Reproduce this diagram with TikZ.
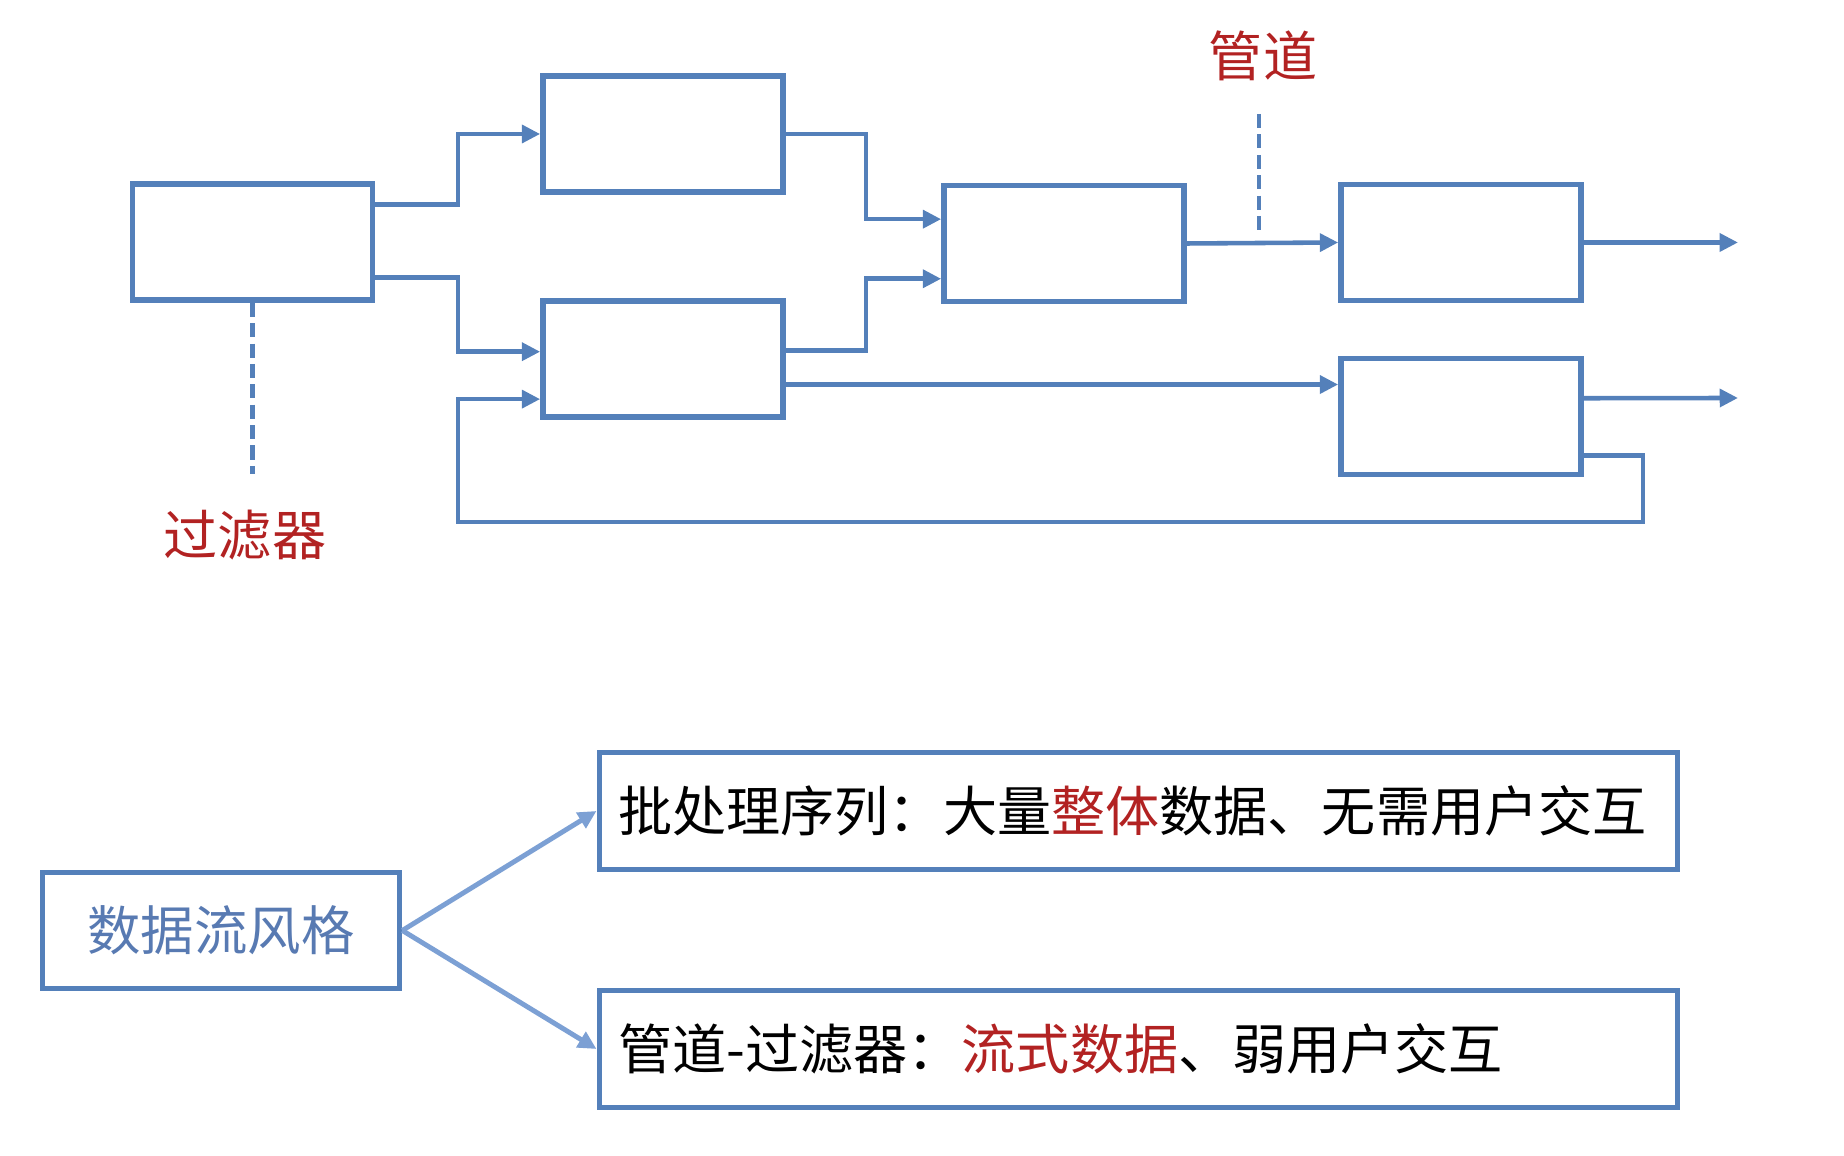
\documentclass[tikz,border=0pt]{standalone}
\usepackage{fontspec}
\setmainfont{Noto Sans CJK SC}
\usetikzlibrary{calc,arrows.meta}

\definecolor{pipeblue}{RGB}{84,128,186}
\definecolor{lightblue}{RGB}{124,160,212}
\definecolor{stylegray}{RGB}{88,122,178}
\definecolor{darkred}{RGB}{178,34,34}

\begin{document}
\begin{tikzpicture}[>={Triangle[length=5.2pt,width=5pt]},
    filter/.style={draw=pipeblue, line width=1.6pt, minimum width=2.4cm,
      minimum height=1.16cm, inner sep=0pt},
    pipe/.style={->, draw=pipeblue, line width=1.3pt},
    leader/.style={draw=pipeblue, line width=1.3pt, dash pattern=on 4pt off 1.8pt},
    note/.style={text=darkred, font=\fontsize{15.4pt}{18pt}\selectfont},
    kind/.style={draw=pipeblue, line width=1.6pt, anchor=west, minimum height=1.17cm,
      text width=10.4cm, inner xsep=0.19cm, align=left,
      font=\fontsize{15.4pt}{18pt}\selectfont}]

    \useasboundingbox (0,0) rectangle (18.44,-11.56);

    % First the filters
    \node [filter] (L) at (2.525,-2.42) {};
    \node [filter] (A) at (6.63,-1.34) {};
    \node [filter] (B) at (6.63,-3.59) {};
    \node [filter] (M) at (10.64,-2.435) {};
    \node [filter] (R1) at (14.61,-2.425) {};
    \node [filter] (R2) at (14.61,-4.165) {};

    % Points on the sides of the filters
    \coordinate (Lo1) at ($ (L.north east)!.19!(L.south east) $);
    \coordinate (Lo2) at ($ (L.north east)!.79!(L.south east) $);
    \coordinate (Bi1) at ($ (B.north west)!.44!(B.south west) $);
    \coordinate (Bi2) at ($ (B.north west)!.83!(B.south west) $);
    \coordinate (Bo1) at ($ (B.north east)!.43!(B.south east) $);
    \coordinate (Bo2) at ($ (B.north east)!.71!(B.south east) $);
    \coordinate (Mi1) at ($ (M.north west)!.30!(M.south west) $);
    \coordinate (Mi2) at ($ (M.north west)!.79!(M.south west) $);
    \coordinate (R2o) at ($ (R2.north east)!.35!(R2.south east) $);
    \coordinate (R2b) at ($ (R2.north east)!.82!(R2.south east) $);

    % Elbows and free ends
    \coordinate (E1) at (4.58,0);
    \coordinate (E2) at (8.66,0);
    \coordinate (Loop) at (16.43,-5.22);
    \coordinate (Out1) at (17.38,-2.425);
    \coordinate (Out2) at (17.38,-3.98);

    % Next, the pipes
    \draw[pipe] (Lo1) -| (E1 |- A.west) -- (A.west);
    \draw[pipe] (Lo2) -| (E1 |- Bi1) -- (Bi1);
    \draw[pipe] (A.east) -| (E2 |- Mi1) -- (Mi1);
    \draw[pipe] (Bo1) -| (E2 |- Mi2) -- (Mi2);
    \draw[pipe] (Bo2) -- (Bo2 -| R2.west);
    \draw[pipe] (M.east) -- (R1.west);
    \draw[pipe] (R1.east) -- (Out1);
    \draw[pipe] (R2o) -- (Out2);
    \draw[pipe] (R2b) -| (Loop) -| (E1 |- Bi2) -- (Bi2);

    % Labels with their leaders
    \node [note] (filterlabel) at (2.45,-5.35) {过滤器};
    \node [note] (pipelabel) at (12.63,-0.56) {管道};
    \coordinate (F1) at (2.525,-4.74);
    \coordinate (P0) at (12.59,-1.14);
    \coordinate (P1) at (12.59,-2.32);
    \draw[leader] (L.south) -- (F1);
    \draw[leader] (P0) -- (P1);

    % The two kinds of data flow style
    \node [draw=pipeblue, line width=1.6pt, minimum width=3.57cm, minimum height=1.16cm,
      inner sep=0pt, text=stylegray, font=\fontsize{15.2pt}{18pt}\selectfont]
      (S) at (2.21,-9.305) {数据流风格};
    \node [kind] (T1) at (5.965,-8.11)
      {批处理序列：大量\textcolor{darkred}{整体}数据、无需用户交互};
    \node [kind] (T2) at (5.965,-10.49)
      {管道-过滤器：\textcolor{darkred}{流式数据}、弱用户交互};
    \draw[->, draw=lightblue, line width=1.4pt] (S.east) -- (T1.west);
    \draw[->, draw=lightblue, line width=1.4pt] (S.east) -- (T2.west);
  \end{tikzpicture}
\end{document}
